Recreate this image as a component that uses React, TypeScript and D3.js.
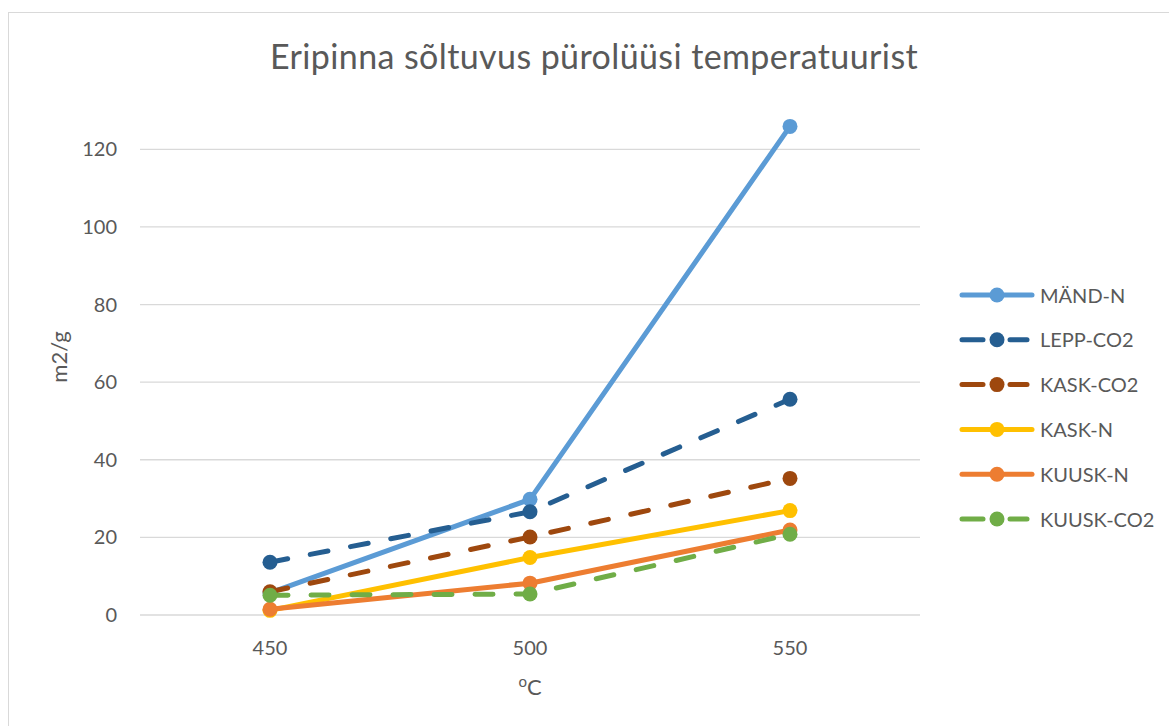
import React from "react";
import * as d3 from "d3";

// Pyrolysis temperature categories (°C)
const temperatures = ["450", "500", "550"];

// Specific surface area, m2/g, per series
const series = ["MÄND-N", "LEPP-CO2", "KASK-CO2", "KASK-N", "KUUSK-N", "KUUSK-CO2"];
const mandN = [5.7, 29.8, 125.9];
const leppCO2 = [13.6, 26.6, 55.6];
const kaskCO2 = [6.0, 20.1, 35.2];
const kaskN = [1.2, 14.8, 26.9];
const kuuskN = [1.5, 8.2, 21.9];
const kuuskCO2 = [5.1, 5.4, 20.8];

const yTicks = [0, 20, 40, 60, 80, 100, 120];

const colors = ["#5B9BD5", "#255E91", "#9E480E", "#FFC000", "#ED7D31", "#70AD47"];
const dashed = [false, true, true, false, false, true];
const values = [mandN, leppCO2, kaskCO2, kaskN, kuuskN, kuuskCO2];

const FONT = "Lato, 'Open Sans', sans-serif";
const TEXT = "#595959";

export default function App() {
  const width = 1169;
  const height = 726;

  const x = d3.scaleBand<string>().domain(temperatures).range([140, 920]).paddingInner(0).paddingOuter(0);
  const cx = (c: string) => (x(c) as number) + x.bandwidth() / 2;
  const y = d3.scaleLinear().domain([0, 120]).range([615, 149.3]);

  const line = d3
    .line<[string, number]>()
    .x((d) => cx(d[0]))
    .y((d) => y(d[1]));

  const legendX0 = 960;
  const legendX1 = 1032;
  const legendMarkerX = 997;
  const legendY0 = 295;
  const legendStep = 44.8;

  return (
    <svg
      width={width}
      height={height}
      style={{ position: "absolute", left: 0, top: 0, background: "#fff" }}
      fontFamily={FONT}
    >
      <rect x={0} y={0} width={width} height={height} fill="#fff" />
      <rect x={8.5} y={12.5} width={1300} height={900} fill="#fff" stroke="#d9d9d9" strokeWidth={1} />

      {/* Title */}
      <text x={594} y={69} textAnchor="middle" fontSize={34} letterSpacing={0.4} fill={TEXT}>
        Eripinna sõltuvus pürolüüsi temperatuurist
      </text>

      {/* Gridlines and y tick labels */}
      {yTicks.map((t) => (
        <g key={t}>
          <line x1={140} x2={920} y1={y(t)} y2={y(t)} stroke="#d9d9d9" strokeWidth={1.3} />
          <text x={117} y={y(t) + 7} textAnchor="end" fontSize={20} fill={TEXT}>
            {t}
          </text>
        </g>
      ))}

      {/* X tick labels */}
      {temperatures.map((c) => (
        <text key={c} x={cx(c)} y={655} textAnchor="middle" fontSize={20} fill={TEXT}>
          {c}
        </text>
      ))}

      {/* Axis titles */}
      <text x={530} y={695} textAnchor="middle" fontSize={22} fill={TEXT}>
        <tspan fontSize={15} dy={-8}>o</tspan>
        <tspan dy={8}>C</tspan>
      </text>
      <text
        transform={`translate(67, 357) rotate(-90)`}
        textAnchor="middle"
        fontSize={22}
        fill={TEXT}
      >
        m2/g
      </text>

      {/* Series */}
      {series.map((name, i) => {
        const pts: [string, number][] = temperatures.map((c, j) => [c, values[i][j]]);
        return (
          <g key={name}>
            <path
              d={line(pts) || ""}
              fill="none"
              stroke={colors[i]}
              strokeWidth={5}
              strokeLinecap="round"
              strokeLinejoin="round"
              strokeDasharray={dashed[i] ? "18 23" : undefined}
            />
            {pts.map((p) => (
              <circle key={p[0]} cx={cx(p[0])} cy={y(p[1])} r={7.5} fill={colors[i]} />
            ))}
          </g>
        );
      })}

      {/* Legend */}
      {series.map((name, i) => {
        const ly = legendY0 + i * legendStep;
        return (
          <g key={name}>
            {dashed[i] ? (
              <>
                <line x1={legendX0 + 2} x2={983} y1={ly} y2={ly} stroke={colors[i]} strokeWidth={5} strokeLinecap="round" />
                <line x1={1010} x2={1027} y1={ly} y2={ly} stroke={colors[i]} strokeWidth={5} strokeLinecap="round" />
              </>
            ) : (
              <line x1={legendX0 + 2} x2={legendX1} y1={ly} y2={ly} stroke={colors[i]} strokeWidth={5} strokeLinecap="round" />
            )}
            <circle cx={legendMarkerX} cy={ly} r={7.5} fill={colors[i]} />
            <text x={1040} y={ly + 7.5} fontSize={20} fill={TEXT}>
              {name}
            </text>
          </g>
        );
      })}
    </svg>
  );
}
